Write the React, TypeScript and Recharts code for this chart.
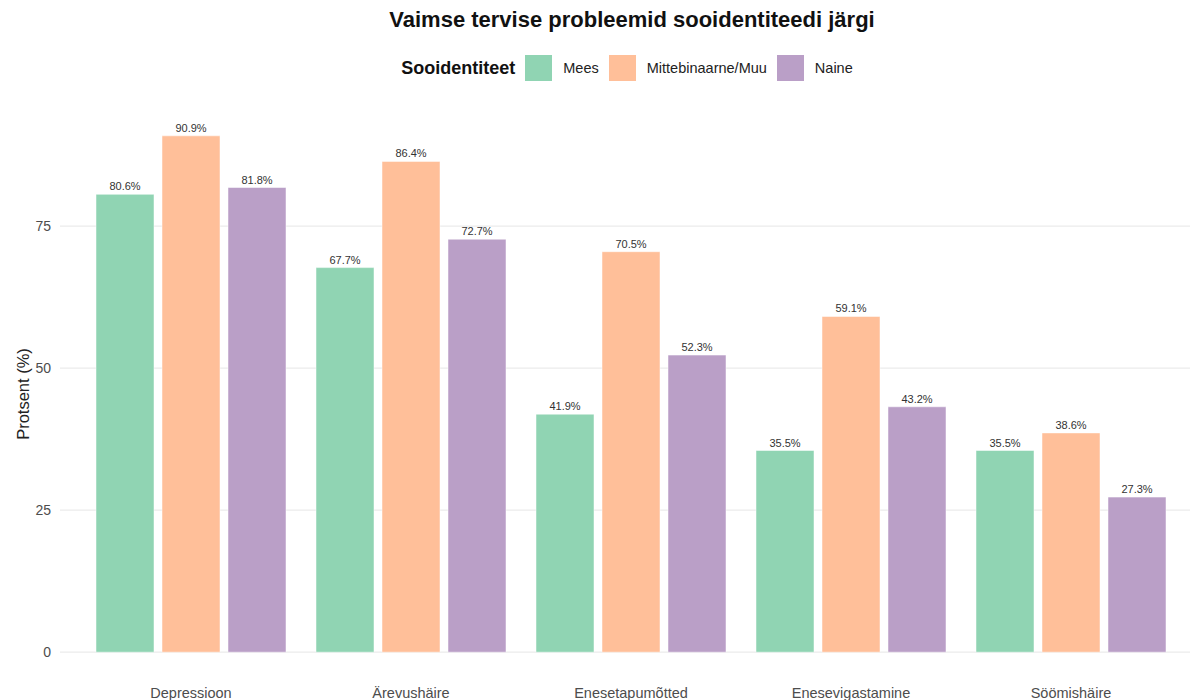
import React from "react";
import { Bar, BarChart, CartesianGrid, LabelList, XAxis, YAxis } from "recharts";

const categories = ["Depressioon", "Ärevushäire", "Enesetapumõtted", "Enesevigastamine", "Söömishäire"];
const mees = [80.6, 67.7, 41.9, 35.5, 35.5];
const mittebinaarne = [90.9, 86.4, 70.5, 59.1, 38.6];
const naine = [81.8, 72.7, 52.3, 43.2, 27.3];
const yTicks = [0, 25, 50, 75];

const series = [
  { key: "mees", name: "Mees", color: "#90D4B3" },
  { key: "muu", name: "Mittebinaarne/Muu", color: "#FFBF99" },
  { key: "naine", name: "Naine", color: "#BA9FC7" },
];

const data = categories.map((c, i) => ({
  name: c,
  mees: mees[i],
  muu: mittebinaarne[i],
  naine: naine[i],
}));

const FONT = "'Liberation Sans', Arial, Helvetica, sans-serif";

function LegendBox() {
  return (
    <div style={{ display: "flex", alignItems: "center", justifyContent: "center", fontFamily: FONT }}>
      <span style={{ fontWeight: "bold", fontSize: 18, color: "#111", marginRight: 10 }}>Sooidentiteet</span>
      {series.map((s) => (
        <span key={s.key} style={{ display: "flex", alignItems: "center", marginRight: 10 }}>
          <span style={{ width: 27, height: 26, background: s.color, display: "inline-block", marginRight: 11 }} />
          <span style={{ fontSize: 14.5, color: "#222" }}>{s.name}</span>
        </span>
      ))}
    </div>
  );
}

export default function App() {
  const fmt = (v: any) => `${Number(v).toFixed(1)}%`;
  return (
    <div style={{ position: "absolute", left: 0, top: 0, width: 1192, height: 700, background: "#fff", fontFamily: FONT }}>
      <div
        style={{
          position: "absolute",
          top: 7,
          left: 0,
          width: 1264,
          textAlign: "center",
          fontSize: 22,
          fontWeight: "bold",
          color: "#111",
        }}
      >
        Vaimse tervise probleemid sooidentiteedi järgi
      </div>
      <div style={{ position: "absolute", top: 55, left: 0, width: 1264 }}>
        <LegendBox />
      </div>
      <BarChart
        width={1192}
        height={700}
        data={data}
        margin={{ top: 110, right: 2, left: 0, bottom: 0 }}
        barCategoryGap={15}
        barGap={8}
      >
        <CartesianGrid horizontal vertical={false} horizontalValues={yTicks} stroke="#EBEBEB" strokeWidth={1.2} />
        <XAxis
          dataKey="name"
          axisLine={false}
          tickLine={false}
          tickSize={0}
          tickMargin={10}
          height={22}
          padding={{ left: 21, right: 9 }}
          tick={{ fontSize: 14.5, fill: "#4D4D4D", fontFamily: FONT }}
          interval={0}
        />
        <YAxis
          width={60}
          domain={[-4.545, 95.445]}
          ticks={yTicks}
          allowDataOverflow
          axisLine={false}
          tickLine={false}
          tickSize={0}
          tickMargin={9}
          tick={{ fontSize: 14, fill: "#4D4D4D", fontFamily: FONT }}
          label={{
            value: "Protsent (%)",
            angle: -90,
            position: "insideLeft",
            dx: 18,
            style: { fontSize: 16.5, fill: "#222", fontFamily: FONT, textAnchor: "middle" },
          }}
        />
        {series.map((s) => (
          <Bar key={s.key} dataKey={s.key} name={s.name} fill={s.color} stroke="#fff" strokeWidth={0.5} isAnimationActive={false}>
            <LabelList
              dataKey={s.key}
              position="top"
              offset={4}
              formatter={fmt}
              style={{ fontSize: 11, fill: "#333", fontFamily: FONT }}
            />
          </Bar>
        ))}
      </BarChart>
    </div>
  );
}
